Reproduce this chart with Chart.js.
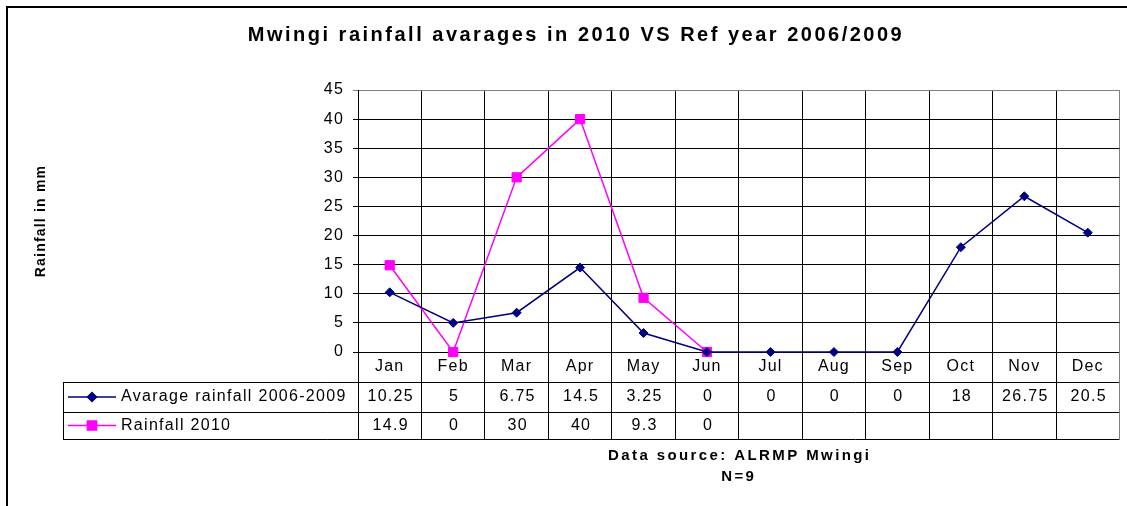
<!DOCTYPE html>
<html>
<head>
<meta charset="utf-8">
<title>Mwingi rainfall avarages</title>
<script src="https://cdn.jsdelivr.net/npm/chart.js@4.4.1/dist/chart.umd.min.js"></script>
<style>
    html, body { margin: 0; padding: 0; background: #ffffff; }
    .chart-container { position: relative; width: 1127px; height: 506px; }
</style>
</head>
<body>
<div class="chart-container">
    <canvas id="rainfallChart"></canvas>
</div>
<script>
// Chart data
const months = ['Jan', 'Feb', 'Mar', 'Apr', 'May', 'Jun', 'Jul', 'Aug', 'Sep', 'Oct', 'Nov', 'Dec'];
const avgRainfall = [10.25, 5, 6.75, 14.5, 3.25, 0, 0, 0, 0, 18, 26.75, 20.5];
const rainfall2010 = [14.9, 0, 30, 40, 9.3, 0, null, null, null, null, null, null];
const seriesLabels = ['Avarage rainfall 2006-2009', 'Rainfall 2010'];
const seriesColors = ['#000080', '#ff00ff'];
const yMin = 0;
const yMax = 45;
const yStep = 5;

const chartTitle = 'Mwingi rainfall avarages in 2010 VS Ref year 2006/2009';
const sourceLines = ['Data source: ALRMP Mwingi', 'N=9'];

const FONT = 'Arial, "Liberation Sans", Helvetica, sans-serif';
Chart.defaults.font.family = FONT;
Chart.defaults.font.size = 16;
Chart.defaults.color = '#000000';

// Pixel alignment for 1px lines
function align(p) {
    return Math.round(p - 0.5) + 0.5;
}

function formatValue(v) {
    return (v === null || v === undefined) ? '' : String(v);
}

// Frame, title, data table and source note
const tablePlugin = {
    id: 'dataTable',
    beforeDraw(chart) {
        const ctx = chart.ctx;
        ctx.save();
        ctx.fillStyle = '#ffffff';
        ctx.fillRect(0, 0, chart.width, chart.height);

        // outer frame (left and top only)
        ctx.strokeStyle = '#000000';
        ctx.lineWidth = 2;
        ctx.beginPath();
        ctx.moveTo(7, chart.height);
        ctx.lineTo(7, 7);
        ctx.lineTo(chart.width, 7);
        ctx.stroke();

        // title
        ctx.letterSpacing = '2.5px';
        ctx.font = 'bold 20px ' + FONT;
        ctx.fillStyle = '#000000';
        ctx.textAlign = 'center';
        ctx.textBaseline = 'middle';
        ctx.fillText(chartTitle, 576, 35);
        ctx.restore();

        ctx.letterSpacing = '1.2px';
    },
    afterDraw(chart) {
        const ctx = chart.ctx;
        const xs = chart.scales.x;
        const area = chart.chartArea;
        const colW = (xs.right - xs.left) / months.length;
        const rows = [area.bottom, 382, 412, 439];
        const tableLeft = 63;

        ctx.save();
        ctx.letterSpacing = '1.3px';
        ctx.lineWidth = 1;
        ctx.strokeStyle = '#000000';

        // horizontal lines
        ctx.beginPath();
        for (let r = 1; r < rows.length; r++) {
            ctx.moveTo(tableLeft, align(rows[r]));
            ctx.lineTo(xs.right, align(rows[r]));
        }
        ctx.moveTo(align(tableLeft), rows[1]);
        ctx.lineTo(align(tableLeft), align(rows[3]));
        ctx.stroke();

        // column lines
        for (let i = 0; i <= months.length; i++) {
            const px = align(xs.left + i * colW);
            ctx.strokeStyle = (i === months.length) ? '#808080' : '#000000';
            ctx.beginPath();
            ctx.moveTo(px, rows[0]);
            ctx.lineTo(px, align(rows[3]));
            ctx.stroke();
        }

        // rows: legend key + values
        chart.data.datasets.forEach((ds, d) => {
            const cy = (rows[d + 1] + rows[d + 2]) / 2;

            ctx.strokeStyle = ds.borderColor;
            ctx.fillStyle = ds.backgroundColor;
            ctx.lineWidth = 1.5;
            ctx.beginPath();
            ctx.moveTo(68, cy);
            ctx.lineTo(116, cy);
            ctx.stroke();
            Chart.helpers.drawPoint(ctx, {
                pointStyle: ds.pointStyle,
                radius: ds.pointRadius,
                rotation: 0,
                borderWidth: 1
            }, 92, cy);

            ctx.font = '16px ' + FONT;
            ctx.fillStyle = '#000000';
            ctx.textBaseline = 'middle';
            ctx.textAlign = 'left';
            ctx.fillText(ds.label, 121, cy);

            ctx.textAlign = 'center';
            ds.data.forEach((v, i) => {
                ctx.fillText(formatValue(v), xs.getPixelForValue(i) + 1, cy);
            });
        });

        // data source note
        const cx = (xs.left + xs.right) / 2;
        ctx.font = 'bold 15px ' + FONT;
        ctx.letterSpacing = '2.4px';
        ctx.textAlign = 'center';
        ctx.textBaseline = 'middle';
        ctx.fillText(sourceLines[0], cx + 1, 456);
        ctx.fillText(sourceLines[1], cx, 477);
        ctx.restore();
    }
};

const ctx = document.getElementById('rainfallChart');

new Chart(ctx, {
    type: 'line',
    data: {
        labels: months,
        datasets: [{
            label: seriesLabels[0],
            data: avgRainfall,
            borderColor: seriesColors[0],
            backgroundColor: seriesColors[0],
            borderWidth: 1.5,
            pointStyle: 'rectRot',
            pointRadius: 4.5,
            pointBorderWidth: 1,
            tension: 0,
            clip: false
        }, {
            label: seriesLabels[1],
            data: rainfall2010,
            borderColor: seriesColors[1],
            backgroundColor: seriesColors[1],
            borderWidth: 1.5,
            pointStyle: 'rect',
            pointRadius: 6.5,
            pointBorderWidth: 1,
            tension: 0,
            spanGaps: false,
            clip: false
        }]
    },
    options: {
        responsive: true,
        maintainAspectRatio: false,
        devicePixelRatio: 1,
        animation: false,
        layout: {
            padding: { left: 0, top: 90, right: 4, bottom: 0 }
        },
        plugins: {
            legend: { display: false },
            title: { display: false },
            tooltip: { enabled: false }
        },
        scales: {
            x: {
                type: 'category',
                offset: true,
                grid: {
                    offset: true,
                    drawTicks: false,
                    color: (c) => c.type === 'tick' ? '#000000' : '#808080',
                    lineWidth: 1
                },
                border: { color: '#000000', width: 1 },
                ticks: {
                    padding: 5,
                    maxRotation: 0,
                    autoSkip: false,
                    font: { size: 16 }
                },
                afterFit(scale) {
                    scale.height = 154;
                }
            },
            y: {
                min: yMin,
                max: yMax,
                ticks: {
                    stepSize: yStep,
                    padding: 9,
                    font: { size: 16 }
                },
                grid: {
                    drawTicks: true,
                    tickLength: 5,
                    color: (c) => (c.tick && c.tick.value === yMax) ? '#808080' : '#000000',
                    lineWidth: 1
                },
                border: { color: '#000000', width: 1 },
                title: {
                    display: true,
                    text: 'Rainfall in mm',
                    font: { size: 14, weight: 'bold' },
                    padding: { top: 33 }
                },
                afterFit(scale) {
                    scale.width = 358;
                }
            }
        }
    },
    plugins: [tablePlugin]
});
</script>
</body>
</html>
